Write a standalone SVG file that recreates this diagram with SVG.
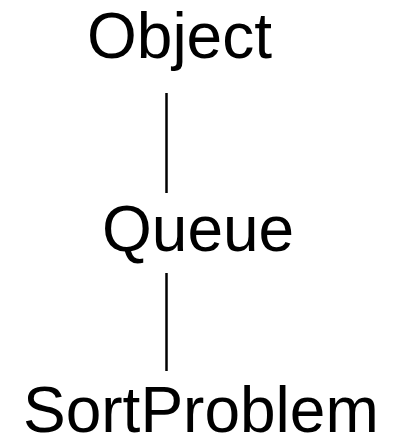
<svg xmlns="http://www.w3.org/2000/svg" width="402" height="436" viewBox="0 0 402 436">
<style>
.label { font-family: "Liberation Sans", Arial, sans-serif; font-size: 64px; fill: #000; }
.edge { stroke: #000; stroke-width: 2.5; fill: none; }
</style>
<rect width="402" height="436" fill="#fff"/>
<g id="connectors">
<line class="edge" x1="166.5" y1="93" x2="166.5" y2="193"/>
<line class="edge" x1="166.5" y1="273" x2="166.5" y2="371"/>
</g>
<g id="node-object"><text class="label" x="87" y="58">Object</text></g>
<g id="node-queue"><text class="label" x="102" y="251">Queue</text></g>
<g id="node-sortproblem"><text class="label" x="23" y="432">SortProblem</text></g>
</svg>
